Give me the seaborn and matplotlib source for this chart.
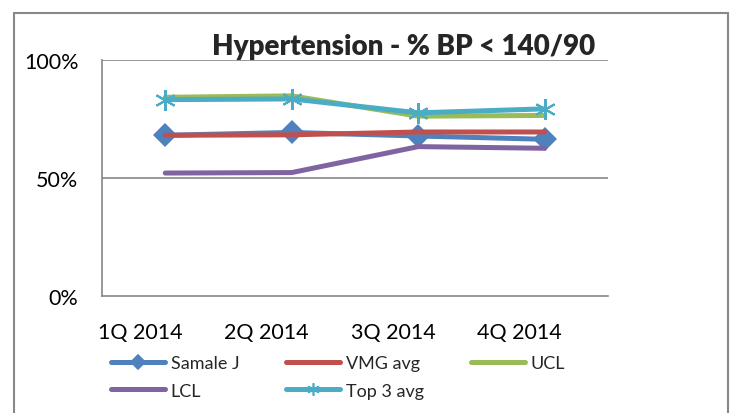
import matplotlib
matplotlib.use("Agg")
import matplotlib.pyplot as plt
import matplotlib.transforms as mtransforms
from matplotlib.lines import Line2D
import seaborn as sns
import pandas as pd

quarters = ["1Q 2014", "2Q 2014", "3Q 2014", "4Q 2014"]
samale_j = [0.681, 0.693, 0.678, 0.664]
vmg_avg = [0.681, 0.683, 0.695, 0.695]
ucl = [0.842, 0.848, 0.762, 0.765]
lcl = [0.521, 0.523, 0.633, 0.626]
top3_avg = [0.832, 0.835, 0.776, 0.793]
yticks = [0, 0.5, 1.0]
ytick_labels = ["0%", "50%", "100%"]

series = [
    ("Samale J", samale_j, "#4F81BD", "D"),
    ("VMG avg", vmg_avg, "#C0504D", None),
    ("UCL", ucl, "#9BBB59", None),
    ("LCL", lcl, "#8064A2", None),
    ("Top 3 avg", top3_avg, "#4BACC6", (6, 2, 0)),
]

sns.set_theme(style="white")
plt.rcParams["font.family"] = ["Lato", "DejaVu Sans"]

fig = plt.figure(figsize=(7.31, 4.14), dpi=100)
ax = fig.add_axes([102 / 731, 1 - 297 / 414, (608 - 102) / 731, (297 - 61) / 414])

handles = {}
for name, vals, color, marker in series:
    df = pd.DataFrame({"q": quarters, "v": vals})
    kw = {}
    if marker is not None:
        kw = dict(marker=marker, markersize=12 if marker == "D" else 15,
                  markeredgecolor=color, markerfacecolor=color,
                  markeredgewidth=1.5 if marker != "D" else 0)
    sns.lineplot(data=df, x="q", y="v", color=color, linewidth=3.6, ax=ax,
                 sort=False, legend=False, **kw)
    if marker is not None:
        h = Line2D([], [], color=color, linewidth=3.6, marker=marker,
                   markersize=7 if marker == "D" else 9, markeredgecolor=color,
                   markerfacecolor=color, markeredgewidth=1.2)
    else:
        h = Line2D([], [], color=color, linewidth=3.6)
    handles[name] = h

ax.set_xlim(-0.5, 3.5)
ax.set_ylim(0, 1.0)
ax.set_yticks(yticks)
ax.set_yticklabels(ytick_labels)
ax.set_xlabel("")
ax.set_ylabel("")
for y in [0.5, 1.0]:
    ax.axhline(y, color="#868686", linewidth=1.2, zorder=0)
for s in ["top", "right"]:
    ax.spines[s].set_visible(False)
for s in ["left", "bottom"]:
    ax.spines[s].set_color("#868686")
    ax.spines[s].set_linewidth(1.2)
ax.tick_params(axis="both", length=0, labelsize=15.5, colors="black")
ax.tick_params(axis="y", pad=17)
ax.tick_params(axis="x", pad=19)
offset = mtransforms.ScaledTranslation(-25 / 100, 0, fig.dpi_scale_trans)
for lab in ax.get_xticklabels():
    lab.set_transform(lab.get_transform() + offset)

fig.text(404 / 731, 1 - 47 / 414, "Hypertension - % BP < 140/90",
         ha="center", va="center", fontsize=20, fontweight="heavy")

order = ["Samale J", "LCL", "VMG avg", "Top 3 avg", "UCL"]
fig.legend([handles[n] for n in order], order, ncol=3,
           loc="upper left", bbox_to_anchor=(111 / 731, 1 - 356 / 414),
           frameon=False, fontsize=13, handlelength=3.0, handletextpad=0.3,
           columnspacing=2.6, labelspacing=0.65, borderaxespad=0, borderpad=0)

# outer chart border
border = dict(color="#888888", linewidth=1.5, transform=fig.transFigure, clip_on=False)
fig.add_artist(Line2D([14 / 731, 14 / 731], [0, 1 - 14 / 414], **border))
fig.add_artist(Line2D([14 / 731, 728 / 731], [1 - 14 / 414, 1 - 14 / 414], **border))
fig.add_artist(Line2D([728 / 731, 728 / 731], [0, 1 - 14 / 414], **border))

fig.savefig("out.png", dpi=100)
